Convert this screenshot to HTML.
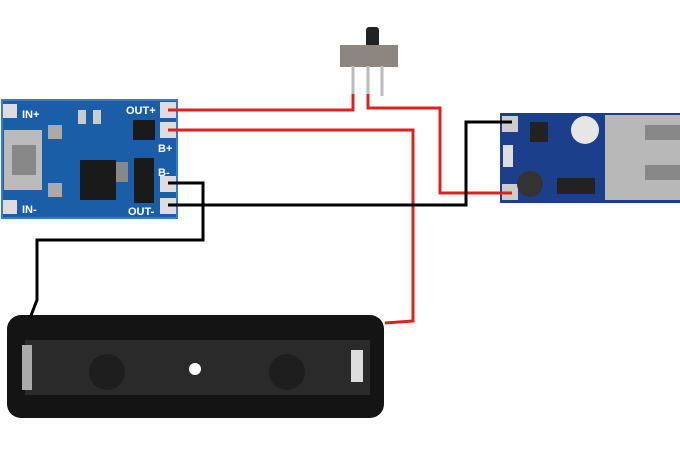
<!DOCTYPE html>
<html><head><style>html,body{margin:0;padding:0;background:#fff;width:680px;height:453px;overflow:hidden}</style></head>
<body>
<svg width="680" height="453" viewBox="0 0 680 453" xmlns="http://www.w3.org/2000/svg" font-family="Liberation Sans, sans-serif">
<!-- TP4056 board -->
<rect x="2" y="100" width="175" height="118" fill="#1a5ea8"/>
<rect x="2" y="100" width="175" height="118" fill="none" stroke="#3a7cc4" stroke-width="2"/>
<rect x="3" y="104" width="14" height="14" fill="#ddd"/>
<rect x="3" y="200" width="14" height="14" fill="#ddd"/>
<rect x="4" y="130" width="38" height="60" fill="#bbb"/>
<rect x="12" y="145" width="24" height="30" fill="#888"/>
<rect x="48" y="125" width="14" height="14" fill="#aaa"/>
<rect x="48" y="183" width="14" height="14" fill="#aaa"/>
<rect x="80" y="160" width="36" height="40" fill="#1a1a1a"/>
<rect x="133" y="120" width="22" height="20" fill="#1a1a1a"/>
<rect x="134" y="158" width="20" height="45" fill="#1a1a1a"/>
<rect x="78" y="110" width="8" height="14" fill="#ccc"/>
<rect x="93" y="110" width="8" height="14" fill="#ccc"/>
<rect x="116" y="162" width="12" height="20" fill="#888"/>
<g font-size="11" font-weight="bold" fill="#fff">
<text x="22" y="118">IN+</text><text x="22" y="213">IN-</text>
<text x="126" y="114">OUT+</text><text x="158" y="152">B+</text>
<text x="158" y="176">B-</text><text x="128" y="215">OUT-</text>
</g>
<rect x="160" y="102" width="16" height="16" fill="#ddd"/>
<rect x="160" y="122" width="16" height="16" fill="#ddd"/>
<rect x="160" y="176" width="16" height="16" fill="#ddd"/>
<rect x="160" y="198" width="16" height="16" fill="#ddd"/>
<!-- boost board -->
<rect x="500" y="113" width="180" height="90" fill="#1b3f8a"/>
<rect x="502" y="116" width="16" height="16" fill="#ccc"/>
<rect x="502" y="184" width="16" height="16" fill="#ccc"/>
<rect x="503" y="145" width="10" height="22" fill="#ddd"/>
<rect x="530" y="122" width="18" height="20" fill="#222"/>
<circle cx="585" cy="130" r="14" fill="#e6e6e6"/>
<circle cx="530" cy="184" r="13" fill="#333"/>
<rect x="557" y="178" width="38" height="16" fill="#222"/>
<rect x="605" y="115" width="75" height="85" fill="#b8b8b8"/>
<rect x="645" y="125" width="35" height="15" fill="#888"/>
<rect x="645" y="165" width="35" height="15" fill="#888"/>
<!-- switch -->
<rect x="366" y="27" width="13" height="20" rx="3" fill="#222"/>
<rect x="340" y="45" width="58" height="22" fill="#8c8580"/>
<line x1="353" y1="66" x2="353" y2="96" stroke="#bbb" stroke-width="3"/>
<line x1="368" y1="66" x2="368" y2="96" stroke="#bbb" stroke-width="3"/>
<line x1="382" y1="66" x2="382" y2="96" stroke="#bbb" stroke-width="3"/>
<!-- battery holder -->
<rect x="7" y="315" width="377" height="103" rx="14" fill="#141414"/>
<rect x="25" y="340" width="345" height="55" fill="#2a2a2a"/>
<circle cx="107" cy="372" r="18" fill="#1e1e1e"/>
<circle cx="287" cy="372" r="18" fill="#1e1e1e"/>
<circle cx="195" cy="369" r="6" fill="#fff"/>
<rect x="351" y="350" width="12" height="32" fill="#ddd"/>
<rect x="22" y="345" width="10" height="45" fill="#aaa"/>
<!-- wires -->
<g fill="none" stroke-width="3" stroke-linejoin="miter">
<polyline points="168,110 353,110 353,94" stroke="#e02020"/>
<polyline points="368,94 368,108 440,108 440,193 512,193" stroke="#e02020"/>
<polyline points="168,130 413,130 413,321 385,323" stroke="#e02020"/>
<polyline points="168,183 203,183 203,240 37,240 37,300 30,318" stroke="#000"/>
<polyline points="168,205 466,205 466,122 512,122" stroke="#000"/>
</g>
</svg>
</body></html>
